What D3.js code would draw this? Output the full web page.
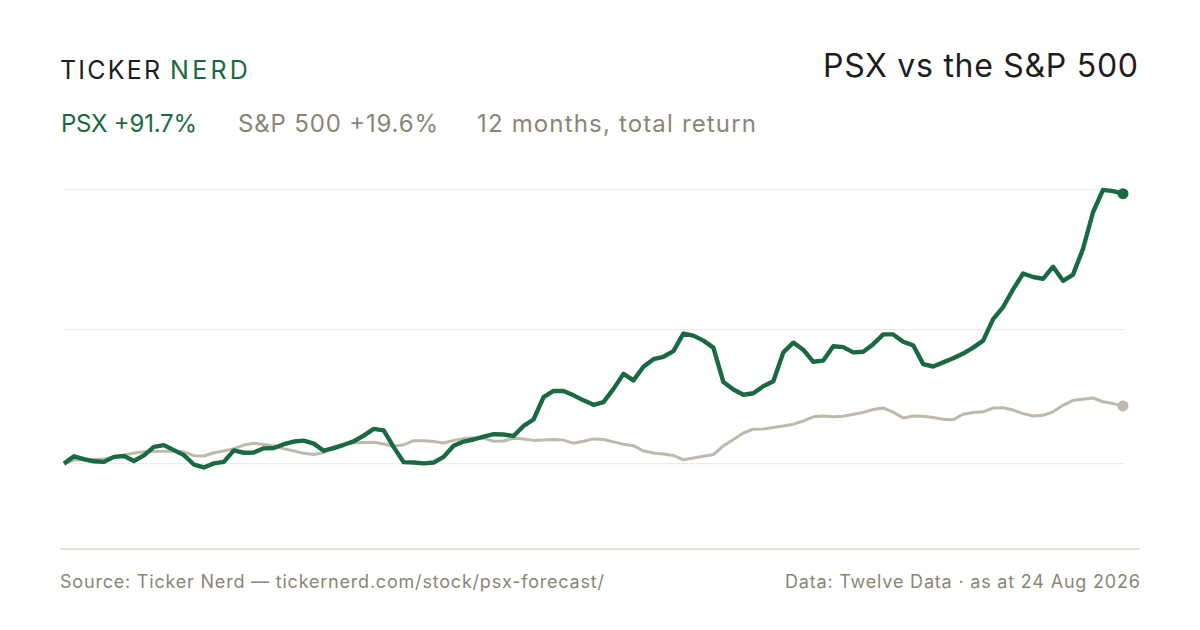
<!DOCTYPE html>
<html>
<head>
  <meta charset="utf-8">
  <title>PSX vs the S&amp;P 500</title>
  <script src="https://d3js.org/d3.v7.min.js"></script>
  <style>
    body { margin: 0; background-color: #ffffff; }
    svg { display: block; font-family: 'Inter', 'Liberation Sans', sans-serif; }
  </style>
</head>
<body>
<script>

  // 12 month total return, % (one point every couple of trading days)
  var psx = [0, 2.5, 1.5, 0.8, 0.6, 2.3, 2.6, 0.9, 2.8, 5.7,
             6.3, 4.6, 2.9, -0.3, -1.3, 0.1, 0.6, 4.5, 3.7, 3.8,
             5.2, 5.3, 6.6, 7.5, 7.8, 6.8, 4.4, 5.3, 6.4, 7.6,
             9.5, 11.8, 11.3, 5.6, 0.5, 0.4, 0.1, 0.4, 2.3, 6.1,
             7.5, 8.2, 9.2, 10.0, 9.9, 9.4, 12.8, 15.0, 22.6, 24.7,
             24.7, 23.2, 21.5, 20.0, 20.9, 25.4, 30.5, 28.3, 32.9, 35.5,
             36.3, 38.2, 44.2, 43.5, 41.8, 39.4, 27.7, 25.2, 23.4, 23.9,
             26.3, 28.0, 37.8, 41.1, 38.7, 34.6, 35.0, 39.9, 39.6, 37.8,
             38.0, 40.6, 43.9, 43.9, 41.4, 40.2, 33.8, 33.0, 34.4, 35.8,
             37.4, 39.4, 41.8, 49.1, 53.2, 59.2, 64.6, 63.4, 62.8, 66.9,
             62.1, 64.2, 73.0, 85.4, 93.0, 92.6, 91.7];

  var spx = [0, 1.2, 1.3, 1.5, 1.6, 2.2, 2.9, 3.6, 4.0, 4.1,
             4.2, 4.2, 4.0, 2.7, 2.6, 3.7, 4.3, 5.1, 6.3, 6.9,
             6.5, 6.0, 5.1, 4.3, 3.5, 3.1, 3.8, 5.7, 6.4, 7.0,
             7.2, 7.3, 6.7, 5.9, 6.4, 7.8, 7.8, 7.5, 7.0, 7.9,
             8.5, 8.8, 8.6, 7.6, 7.7, 8.6, 8.4, 7.9, 8.0, 8.2,
             8.0, 6.9, 7.6, 8.4, 8.2, 7.4, 6.6, 6.1, 4.3, 3.6,
             3.3, 2.8, 1.3, 1.9, 2.5, 3.1, 6.0, 8.2, 10.4, 11.7,
             11.8, 12.3, 12.8, 13.4, 14.5, 15.9, 16.2, 15.9, 16.1, 16.8,
             17.4, 18.4, 18.9, 17.5, 15.5, 16.2, 16.1, 15.7, 15.1, 14.9,
             16.8, 17.4, 17.6, 18.9, 19.0, 18.2, 17.0, 16.2, 16.4, 17.6,
             19.8, 21.5, 21.9, 22.3, 21.0, 20.4, 19.6];

  var gridValues = [0, 45.5, 93.2];
  var yDomain = [-29, 93.2];

  var brandLeft = "TICKER";
  var brandRight = "NERD";
  var title = "PSX vs the S&P 500";
  var psxLabel = "PSX +91.7%";
  var spxLabel = "S&P 500 +19.6%";
  var periodLabel = "12 months, total return";
  var sourceText = "Source: Ticker Nerd \u2014 tickernerd.com/stock/psx-forecast/";
  var dataText = "Data: Twelve Data \u00b7 as at 24 Aug 2026";

  var green = "#196a41";
  var grey = "#bfb8ad";
  var muted = "#8b8576";

  //create the canvas
  var svg = d3.select("body").append("svg")
      .attr("width", 1200)
      .attr("height", 630);

  svg.append("rect")
      .attr("width", 1200)
      .attr("height", 630)
      .attr("fill", "#ffffff");

  //scales
  var x = d3.scaleLinear()
      .domain([0, psx.length - 1])
      .range([64, 1123]);

  var y = d3.scaleLinear()
      .domain(yDomain)
      .range([549, 189.3]);

  //header
  var brand = svg.append("text")
      .attr("x", 60)
      .attr("y", 79)
      .attr("font-size", 25);

  brand.append("tspan")
      .attr("fill", "#1e1e1e")
      .attr("letter-spacing", 2.2)
      .text(brandLeft);

  brand.append("tspan")
      .attr("x", 170)
      .attr("fill", green)
      .attr("letter-spacing", 3.3)
      .text(brandRight);

  svg.append("text")
      .attr("x", 1138)
      .attr("y", 77)
      .attr("text-anchor", "end")
      .attr("font-size", 32)
      .attr("fill", "#1e1e1e")
      .attr("textLength", 315)
      .attr("lengthAdjust", "spacing")
      .text(title);

  svg.append("text")
      .attr("x", 61)
      .attr("y", 132)
      .attr("font-size", 24)
      .attr("fill", green)
      .attr("textLength", 136)
      .attr("lengthAdjust", "spacing")
      .text(psxLabel);

  svg.append("text")
      .attr("x", 238)
      .attr("y", 132)
      .attr("font-size", 24)
      .attr("fill", muted)
      .attr("textLength", 200)
      .attr("lengthAdjust", "spacing")
      .text(spxLabel);

  svg.append("text")
      .attr("x", 477)
      .attr("y", 132)
      .attr("font-size", 24)
      .attr("fill", muted)
      .attr("textLength", 279)
      .attr("lengthAdjust", "spacing")
      .text(periodLabel);

  //grid lines
  svg.selectAll(".grid")
      .data(gridValues)
      .enter()
        .append("line")
        .attr("class", "grid")
        .attr("x1", x(0))
        .attr("x2", x(psx.length - 1) + 1)
        .attr("y1", function (d) { return y(d); })
        .attr("y2", function (d) { return y(d); })
        .attr("stroke", "#ecebe5")
        .attr("stroke-width", 1.2);

  //bottom rule
  svg.append("line")
      .attr("x1", 60)
      .attr("x2", 1140)
      .attr("y1", y(yDomain[0]))
      .attr("y2", y(yDomain[0]))
      .attr("stroke", "#ddd9cd")
      .attr("stroke-width", 1.5);

  var line = d3.line()
      .x(function (d, i) { return x(i); })
      .y(function (d) { return y(d); });

  svg.append("path")
      .datum(spx)
      .attr("d", line)
      .attr("fill", "none")
      .attr("stroke", grey)
      .attr("stroke-width", 3)
      .attr("stroke-linejoin", "round");

  svg.append("path")
      .datum(psx)
      .attr("d", line)
      .attr("fill", "none")
      .attr("stroke", green)
      .attr("stroke-width", 4.4)
      .attr("stroke-linejoin", "round");

  //end dots
  svg.append("circle")
      .attr("cx", x(spx.length - 1))
      .attr("cy", y(spx[spx.length - 1]))
      .attr("r", 5.5)
      .attr("fill", grey);

  svg.append("circle")
      .attr("cx", x(psx.length - 1))
      .attr("cy", y(psx[psx.length - 1]))
      .attr("r", 5.5)
      .attr("fill", green);

  //footer
  svg.append("text")
      .attr("x", 60)
      .attr("y", 588)
      .attr("font-size", 18)
      .attr("fill", muted)
      .attr("textLength", 544)
      .attr("lengthAdjust", "spacing")
      .text(sourceText);

  svg.append("text")
      .attr("x", 1140)
      .attr("y", 588)
      .attr("text-anchor", "end")
      .attr("font-size", 18)
      .attr("fill", muted)
      .attr("textLength", 355)
      .attr("lengthAdjust", "spacing")
      .text(dataText);

</script>
</body>
</html>
